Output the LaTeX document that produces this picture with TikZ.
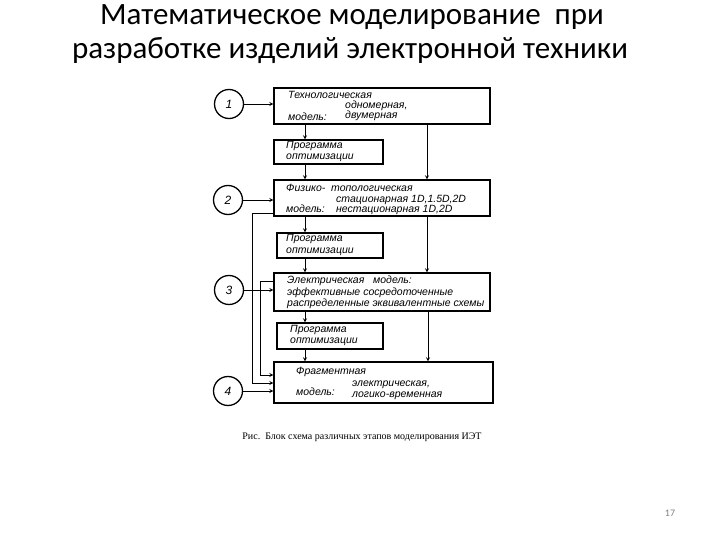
\documentclass[tikz,border=0pt]{standalone}
\usepackage{fontspec}
\setmainfont{Liberation Serif}
\newfontfamily\titlef{Carlito}
\newfontfamily\boxf{Liberation Sans}
\begin{document}
\begin{tikzpicture}[x=1pt,y=-1pt,
  blk/.style={draw,line width=1.3pt,inner sep=0},
  circ/.style={draw,circle,line width=1.3pt,minimum size=29pt,inner sep=0,font=\boxf\itshape\large},
  tx/.style={font=\boxf\itshape\fontsize{10.5}{11}\selectfont,anchor=west,inner sep=0},
  ar/.style={->,>=stealth,line width=0.8pt}]
\useasboundingbox (0,0) rectangle (720,540);
\node[font=\titlef\fontsize{31}{34}\selectfont] (t1) at (352,17) {Математическое моделирование\ \ при};
\node[font=\titlef\fontsize{31}{34}\selectfont] (t2) at (350,50) {разработке изделий электронной техники};
% boxes
\node[blk,minimum width=216pt,minimum height=36pt] (b1) at (382,106) {};
\node[blk,minimum width=109pt,minimum height=24pt] (p1) at (328.5,152) {};
\node[blk,minimum width=216pt,minimum height=36pt] (b2) at (382,198) {};
\node[blk,minimum width=106pt,minimum height=25pt] (p2) at (330,245.5) {};
\node[blk,minimum width=216pt,minimum height=38pt] (b3) at (382,292) {};
\node[blk,minimum width=106pt,minimum height=26pt] (p3) at (330,336) {};
\node[blk,minimum width=219pt,minimum height=41pt] (b4) at (383.5,382.5) {};
% circles
\node[circ] (c1) at (229,104) {1};
\node[circ] (c2) at (228,200) {2};
\node[circ] (c3) at (229,290) {3};
\node[circ] (c4) at (228,391) {4};
% texts
\node[tx] (x1a) at (288,95) {Технологическая};
\node[tx] (x1b) at (345,106) {одномерная,};
\node[tx] (x1c) at (288,117) {модель:};
\node[tx] (x1d) at (345,116) {двумерная};
\node[tx] (y1a) at (286,146) {Программа};
\node[tx] (y1b) at (286,158) {оптимизации};
\draw[line width=0.6pt] (286,164) -- (362,164);
\node[tx] (x2a) at (286,188) {Физико-\ \ топологическая};
\node[tx] (x2b) at (336,200) {стационарная 1D,1.5D,2D};
\node[tx] (x2c) at (286,209) {модель:};
\node[tx] (x2d) at (336,210) {нестационарная 1D,2D};
\node[tx] (y2a) at (286,239) {Программа};
\node[tx] (y2b) at (286,252) {оптимизации};
\draw[line width=0.6pt] (286,258) -- (362,258);
\node[tx] (x3a) at (287,281) {Электрическая\ \ \ модель:};
\node[tx] (x3b) at (287,293) {эффективные сосредоточенные};
\node[tx] (x3c) at (287,304) {распределенные эквивалентные схемы};
\node[tx] (y3a) at (290,330) {Программа};
\node[tx] (y3b) at (290,342) {оптимизации};
\draw[line width=0.6pt] (290,348) -- (366,348);
\node[tx] (x4a) at (296,372) {Фрагментная};
\node[tx] (x4b) at (296,392) {модель:};
\node[tx] (x4c) at (352,385) {электрическая,};
\node[tx] (x4d) at (352,396) {логико-временная};
% arrows
\draw[ar] (c1) -- (c1.east -| b1.west);
\draw[ar] (c2) -- (c2.east -| b2.west);
\draw[ar] (c3) -- (c3.east -| b3.west);
\draw[ar] (c4) -- (c4.east -| b4.west);
\draw[ar] (b1.south -| 305,0) -- (p1.north -| 305,0);
\draw[ar] (p1.south -| 305,0) -- (b2.north -| 305,0);
\draw[ar] (b2.south -| 305,0) -- (p2.north -| 305,0);
\draw[ar] (p2.south -| 305,0) -- (b3.north -| 305,0);
\draw[ar] (b3.south -| 305,0) -- (p3.north -| 305,0);
\draw[ar] (p3.south -| 305,0) -- (b4.north -| 305,0);
\draw[ar] (b1.south -| 427,0) -- (b2.north -| 427,0);
\draw[ar] (b2.south -| 427,0) -- (b3.north -| 427,0);
\draw[ar] (b3.south -| 428,0) -- (b4.north -| 428,0);
\draw[ar] (b2.west |- 0,213) -- (252,213) -- (252,383) -- (b4.west |- 0,383);
\draw[ar] (b3.west |- 0,281) -- (260,281) -- (260,375) -- (b4.west |- 0,375);
\node[font=\fontsize{10}{12}\selectfont] (cap) at (362,437) {Рис.\ \ Блок схема различных этапов моделирования ИЭТ};
\node[font=\titlef\fontsize{10}{12}\selectfont,text=gray] (pg) at (670,513) {17};
\end{tikzpicture}
\end{document}
